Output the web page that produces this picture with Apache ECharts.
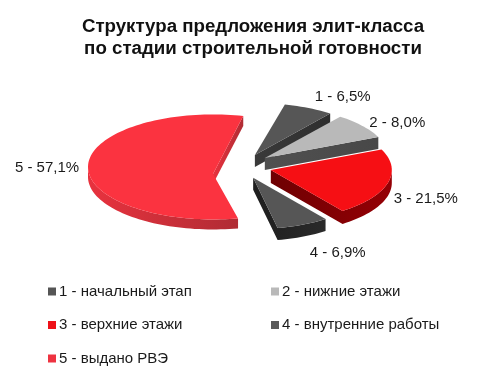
<!DOCTYPE html>
<html>
<head>
<meta charset="utf-8">
<style>html,body{margin:0;padding:0;background:#fff}#c{width:490px;height:384px}</style>
<script src="https://cdn.jsdelivr.net/npm/echarts@6/dist/echarts.min.js"></script>
</head>
<body>
<div id="c"></div>
<script>
var titleText = 'Структура предложения элит-класса\nпо стадии строительной готовности';
var stageNumbers = ['1', '2', '3', '4', '5'];
var stageNames = ['начальный этап', 'нижние этажи', 'верхние этажи', 'внутренние работы', 'выдано РВЭ'];
var shareValues = [6.5, 8.0, 21.5, 6.9, 57.1];

// presentation only
var topColors = ['#565656', '#b9b9b9', '#f60f14', '#565656', '#fb3340'];
var sideLeft = ['#3a3a3a', '#505050', '#6e0002', '#1e1e1e', '#e8323e'];
var sideRight = ['#2e2e2e', '#484848', '#950005', '#2a2a2a', '#b02c34'];
var legendColors = ['#555555', '#b9b9b9', '#ee1118', '#5a5a5a', '#ee3340'];
var explodeDist = [29, 26, 22, 26, 37];
var explodeTurn = [-16, -17, 4, 17, -1];
var apexDrop = [0, 0, 0, 0, 7];
var radii = [124, 124, 121, 122, 125];
var depths = [12, 12, 13, 12, 10];
var labelShift = [[34, -11], [35, -3], [38, 16], [35, 28], [-41, 2]];
var pieCx = 250, pieCy = 167, squash = 0.42, firstAngle = 14;

var total = shareValues.reduce(function (a, b) { return a + b; }, 0);
function pt(cx, cy, deg, r) {
  var a = deg * Math.PI / 180;
  return [cx + r * Math.sin(a), cy - r * Math.cos(a) * squash];
}
function startOf(i) {
  var s = firstAngle;
  for (var j = 0; j < i; j++) s += shareValues[j] / total * 360;
  return s;
}
function labelFor(i) {
  return stageNumbers[i] + ' - ' + shareValues[i].toFixed(1).replace('.', ',') + '%';
}
function wall(run, i) {
  var d = depths[i], back = run.slice().reverse().map(function (p) { return [p[0], p[1] + d]; });
  return {
    type: 'polygon', silent: true,
    shape: { points: run.concat(back) },
    style: {
      fill: new echarts.graphic.LinearGradient(0, 0, 1, 0, [
        { offset: 0, color: sideLeft[i] }, { offset: 1, color: sideRight[i] }
      ])
    }
  };
}
function renderSlice(i) {
  return function () {
    var a0 = startOf(i), a1 = a0 + shareValues[i] / total * 360, mid = (a0 + a1) / 2;
    var hub = pt(pieCx, pieCy, mid + explodeTurn[i], explodeDist[i]);
    var r = radii[i];
    var poly = [[hub[0], hub[1] + apexDrop[i]]];
    var steps = Math.max(6, Math.ceil((a1 - a0) / 2));
    for (var s = 0; s <= steps; s++) poly.push(pt(hub[0], hub[1], a0 + (a1 - a0) * s / steps, r));
    var children = [], run = [];
    for (var e = 0; e < poly.length; e++) {
      var p = poly[e], q = poly[(e + 1) % poly.length];
      if (q[0] < p[0]) {
        if (!run.length) run.push(p);
        run.push(q);
      } else if (run.length) {
        children.push(wall(run, i));
        run = [];
      }
    }
    if (run.length) children.push(wall(run, i));
    children.push({
      type: 'polygon', silent: true,
      shape: { points: poly },
      style: { fill: topColors[i] }
    });
    var m = pt(hub[0], hub[1], mid, r);
    children.push({
      type: 'text', silent: true,
      style: {
        x: m[0] + labelShift[i][0], y: m[1] + labelShift[i][1],
        text: labelFor(i), fill: '#1a1a1a',
        font: '15px "Liberation Sans", Arial, sans-serif',
        align: 'center', verticalAlign: 'middle'
      }
    });
    return { type: 'group', children: children };
  };
}
var order = [4, 0, 1, 2, 3];
var seriesList = order.map(function (i) {
  return {
    type: 'custom',
    name: stageNumbers[i] + ' - ' + stageNames[i],
    coordinateSystem: 'none',
    silent: true,
    animation: false,
    itemStyle: { color: legendColors[i] },
    data: [shareValues[i]],
    renderItem: renderSlice(i)
  };
});
function legendAt(idx, left, top) {
  return {
    data: idx.map(function (i) { return stageNumbers[i] + ' - ' + stageNames[i]; }),
    left: left, top: top, orient: 'vertical',
    itemWidth: 8, itemHeight: 8, itemGap: 18.5, icon: 'rect',
    padding: 0, selectedMode: false,
    textStyle: { fontFamily: '"Liberation Sans", Arial, sans-serif', fontSize: 15, color: '#1a1a1a', padding: [0, 0, 0, -2] }
  };
}
var chart = echarts.init(document.getElementById('c'), null, { renderer: 'canvas' });
chart.setOption({
  backgroundColor: '#ffffff',
  animation: false,
  title: {
    text: titleText, left: 248, top: 11, textAlign: 'center',
    textStyle: { fontFamily: '"Liberation Sans", Arial, sans-serif', fontWeight: 'bold', fontSize: 18.7, lineHeight: 22, color: '#111111' }
  },
  legend: [legendAt([0, 2, 4], 48, 284), legendAt([1, 3], 271, 284)],
  series: seriesList
});
</script>
</body>
</html>
